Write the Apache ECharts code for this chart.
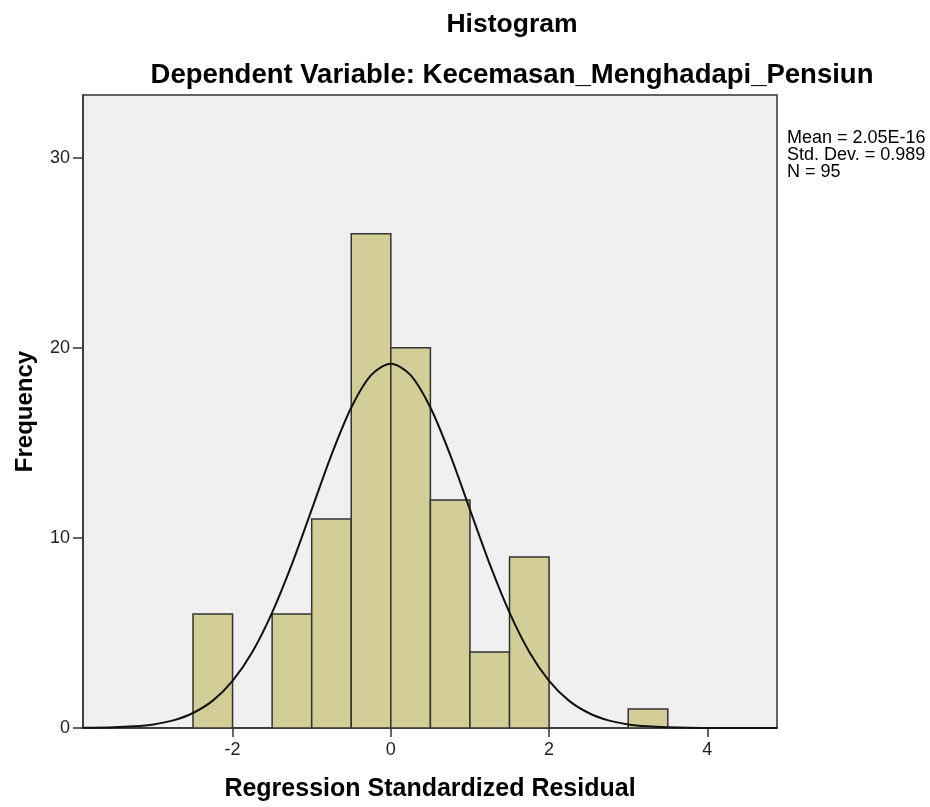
<!DOCTYPE html>
<html>
<head>
<meta charset="utf-8">
<script src="https://cdn.jsdelivr.net/npm/echarts@6/dist/echarts.min.js"></script>
<style>
html,body{margin:0;padding:0;background:#fff;}
#chart{width:930px;height:807px;}
</style>
</head>
<body>
<div id="chart"></div>
<script>
// Histogram bins (lower edge, upper edge) and frequencies
const binStart = [-2.5, -2.0, -1.5, -1.0, -0.5, 0.0, 0.5, 1.0, 1.5, 3.0];
const binEnd   = [-2.0, -1.5, -1.0, -0.5, 0.0, 0.5, 1.0, 1.5, 2.0, 3.5];
const frequency = [6, 0, 6, 11, 26, 20, 12, 4, 9, 1];

// Normal curve points
const curveX = [-3.89, -3.5, -3.25, -3.0, -2.75, -2.5, -2.25, -2.0, -1.75, -1.5, -1.25, -1.0, -0.75, -0.5, -0.25, 0.0,
                0.25, 0.5, 0.75, 1.0, 1.25, 1.5, 1.75, 2.0, 2.25, 2.5, 2.75, 3.0, 3.25, 3.5, 3.75, 4.0, 4.5, 4.88];
const curveY = [0.01, 0.04, 0.09, 0.19, 0.40, 0.79, 1.44, 2.48, 4.00, 6.07, 8.62, 11.49, 14.37, 16.86, 18.56, 19.16,
                18.56, 16.86, 14.37, 11.49, 8.62, 6.07, 4.00, 2.48, 1.44, 0.79, 0.40, 0.19, 0.09, 0.04, 0.01, 0.005, 0.0, 0.0];

const xTicks = [-2, 0, 2, 4];
const yTicks = [0, 10, 20, 30];
const statsLines = ['Mean = 2.05E-16', 'Std. Dev. = 0.989', 'N = 95'];

const titleText = 'Histogram';
const subTitleText = 'Dependent Variable: Kecemasan_Menghadapi_Pensiun';
const xName = 'Regression Standardized Residual';
const yName = 'Frequency';

const chart = echarts.init(document.getElementById('chart'), null, {renderer: 'canvas'});
const FONT = '"Liberation Sans", Arial, sans-serif';

const histData = binStart.map((s, i) => [s, binEnd[i], frequency[i]]).filter(d => d[2] > 0);
const curveData = curveX.map((x, i) => [x, curveY[i]]);

chart.setOption({
  backgroundColor: '#ffffff',
  animation: false,
  title: [
    {text: titleText, left: 507, top: 6, textAlign: 'center',
     textStyle: {fontFamily: FONT, fontSize: 26.5, fontWeight: 'bold', color: '#000'}},
    {text: subTitleText, left: 507, top: 56, textAlign: 'center',
     textStyle: {fontFamily: FONT, fontSize: 27.5, fontWeight: 'bold', color: '#000'}}
  ],
  graphic: [
    {type: 'text', left: 787, top: 129,
     style: {text: statsLines.join('\n'), font: '18px ' + FONT, fill: '#000', lineHeight: 17}}
  ],
  grid: {left: 83, right: 153, top: 95, bottom: 79, show: true, backgroundColor: '#f0f0f0',
         borderColor: '#333', borderWidth: 1.5},
  xAxis: {
    type: 'value', min: -3.89, max: 4.88,
    name: xName, nameLocation: 'middle', nameGap: 49,
    nameTextStyle: {fontFamily: FONT, fontSize: 25, fontWeight: 'bold', color: '#000'},
    axisLine: {show: true, onZero: false, lineStyle: {color: '#333', width: 1.5}},
    axisTick: {show: true, length: 9, customValues: xTicks, lineStyle: {color: '#333', width: 1.5}},
    axisLabel: {customValues: xTicks, fontFamily: FONT, fontSize: 18, color: '#222', margin: 13},
    splitLine: {show: false}
  },
  yAxis: {
    type: 'value', min: 0, max: 33.3,
    name: yName, nameLocation: 'middle', nameGap: 46, nameRotate: 90,
    nameTextStyle: {fontFamily: FONT, fontSize: 24, fontWeight: 'bold', color: '#000'},
    axisLine: {show: true, onZero: false, lineStyle: {color: '#333', width: 1.5}},
    axisTick: {show: true, length: 10, customValues: yTicks, lineStyle: {color: '#333', width: 1.5}},
    axisLabel: {customValues: yTicks, fontFamily: FONT, fontSize: 18, color: '#222', margin: 13},
    splitLine: {show: false}
  },
  series: [
    {
      type: 'custom',
      data: histData,
      encode: {x: [0, 1], y: 2},
      clip: true,
      renderItem: function (params, api) {
        const p0 = api.coord([api.value(0), 0]);
        const p1 = api.coord([api.value(1), api.value(2)]);
        return {
          type: 'rect',
          shape: {x: p0[0], y: p1[1], width: p1[0] - p0[0], height: p0[1] - p1[1]},
          style: {fill: '#d3ce97', stroke: '#333', lineWidth: 1.5}
        };
      },
      z: 2
    },
    {
      type: 'line',
      data: curveData,
      smooth: 0.3,
      showSymbol: false,
      lineStyle: {color: '#111', width: 2},
      z: 3
    }
  ]
});
</script>
</body>
</html>
